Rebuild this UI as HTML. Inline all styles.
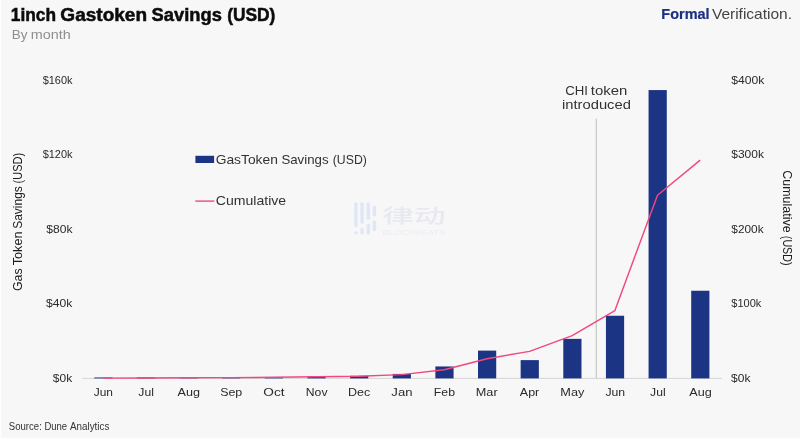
<!DOCTYPE html>
<html><head><meta charset="utf-8"><title>1inch Gastoken Savings (USD)</title>
<style>
html,body{margin:0;padding:0;background:#f7f7f7;}
body{width:800px;height:438px;overflow:hidden;font-family:"Liberation Sans","Noto Sans CJK SC",sans-serif;}
svg{display:block}
text{font-family:"Liberation Sans","Noto Sans CJK SC",sans-serif;}
</style></head><body>
<svg width="800" height="438" viewBox="0 0 800 438">
<rect width="800" height="438" fill="#f7f7f7"/>
<rect id="strip" width="1.2" height="438" fill="#ffffff"/>
<g id="shapes">
<g fill="#dfe7f6">
<rect x="354.2" y="202.4" width="3.4" height="24.6" rx="1.2"/>
<rect x="354.2" y="231.4" width="3.4" height="3" rx="1.2"/>
<rect x="360.4" y="202.4" width="3.4" height="21.2" rx="1.2"/>
<rect x="360.4" y="228" width="3.4" height="6.4" rx="1.2"/>
<rect x="366.6" y="202.4" width="3.4" height="17.2" rx="1.2"/>
<rect x="366.6" y="224" width="3.4" height="10.4" rx="1.2"/>
<rect x="372.7" y="205.8" width="3.4" height="10.4" rx="1.2"/>
<rect x="372.7" y="220.6" width="3.4" height="10.4" rx="1.2"/>
</g>
<text class="wm" x="382.3" y="222.6" font-size="19.5" font-weight="500" style="fill:#e8e9f0" textLength="63.4" lengthAdjust="spacingAndGlyphs">律动</text>
<text class="wm" x="382.5" y="234.5" font-size="6.6" font-weight="400" style="fill:#ececf2" textLength="63" lengthAdjust="spacingAndGlyphs">BLOCKBEATS</text>
<line x1="82.3" y1="378.4" x2="722" y2="378.4" stroke="#d4d4d4" stroke-width="1"/>
<line x1="596.25" y1="118.7" x2="596.25" y2="378.4" stroke="#bdbdbd" stroke-width="1"/>
<g fill="#1b3484">
<rect x="94.25" y="377.47" width="18.2" height="0.93"/>
<rect x="136.89" y="377.47" width="18.2" height="0.93"/>
<rect x="179.53" y="378.03" width="18.2" height="0.37"/>
<rect x="222.17" y="377.56" width="18.2" height="0.84"/>
<rect x="264.81" y="377.19" width="18.2" height="1.21"/>
<rect x="307.45" y="376.53" width="18.2" height="1.86"/>
<rect x="350.09" y="375.79" width="18.2" height="2.61"/>
<rect x="392.73" y="373.92" width="18.2" height="4.48"/>
<rect x="435.37" y="366.46" width="18.2" height="11.94"/>
<rect x="478.01" y="350.61" width="18.2" height="27.79"/>
<rect x="520.65" y="360.12" width="18.2" height="18.28"/>
<rect x="563.29" y="338.86" width="18.2" height="39.54"/>
<rect x="605.93" y="315.74" width="18.2" height="62.66"/>
<rect x="648.57" y="90.07" width="18.2" height="288.33"/>
<rect x="691.21" y="290.75" width="18.2" height="87.65"/>
<rect x="195.4" y="155.8" width="18.7" height="7.2"/>
</g>
<polyline points="103.2,378.1 145.8,377.9 188.5,377.8 231.1,377.6 273.8,377.3 316.4,376.8 359.0,376.2 401.7,374.6 444.3,369.8 487.0,358.7 529.6,351.4 572.2,335.6 614.9,310.5 657.5,195.2 700.2,160.1" fill="none" stroke="#f1487f" stroke-width="1.45" stroke-linejoin="round"/>
<line x1="195.3" y1="201.1" x2="214.3" y2="201.1" stroke="#f1487f" stroke-width="1.4"/>
</g>
<g id="labels">
<text y="20.60" font-size="18" font-weight="700" style="fill:#0c0c0c;stroke:#0c0c0c;stroke-width:0.5"><tspan id="t1" x="10.78" textLength="45.21" lengthAdjust="spacingAndGlyphs">1inch</tspan> <tspan id="t2" x="60.33" textLength="86.74" lengthAdjust="spacingAndGlyphs">Gastoken</tspan> <tspan id="t3" x="151.57" textLength="70.28" lengthAdjust="spacingAndGlyphs">Savings</tspan> <tspan id="t4" x="227.20" textLength="48.21" lengthAdjust="spacingAndGlyphs">(USD)</tspan></text>
<text y="38.50" font-size="13" font-weight="400" style="fill:#8f8f8f"><tspan id="s1" x="11.79" textLength="15.74" lengthAdjust="spacingAndGlyphs">By</tspan> <tspan id="s2" x="30.85" textLength="40.00" lengthAdjust="spacingAndGlyphs">month</tspan></text>
<text y="19.05" font-size="14.8" font-weight="700" style="fill:#1b2f85;stroke:#1b2f85;stroke-width:0.2"><tspan id="f1" x="661.37" textLength="48.23" lengthAdjust="spacingAndGlyphs">Formal</tspan></text>
<text y="19.05" font-size="14.8" font-weight="400" style="fill:#444"><tspan id="f2" x="711.91" textLength="80.06" lengthAdjust="spacingAndGlyphs">Verification.</tspan></text>
<text y="163.90" font-size="13.6" font-weight="400" style="fill:#323232"><tspan id="l1" x="215.69" textLength="62.15" lengthAdjust="spacingAndGlyphs">GasToken</tspan> <tspan id="l2" x="281.38" textLength="47.21" lengthAdjust="spacingAndGlyphs">Savings</tspan> <tspan id="l3" x="332.76" textLength="34.10" lengthAdjust="spacingAndGlyphs">(USD)</tspan></text>
<text y="205.30" font-size="13.6" font-weight="400" style="fill:#323232"><tspan id="l4" x="215.75" textLength="70.40" lengthAdjust="spacingAndGlyphs">Cumulative</tspan></text>
<text y="94.50" font-size="13.5" font-weight="400" style="fill:#323232"><tspan id="c1" x="565.27" textLength="22.71" lengthAdjust="spacingAndGlyphs">CHI</tspan> <tspan id="c2" x="590.82" textLength="36.52" lengthAdjust="spacingAndGlyphs">token</tspan></text>
<text y="109.35" font-size="13.5" font-weight="400" style="fill:#323232"><tspan id="c3" x="562.01" textLength="68.88" lengthAdjust="spacingAndGlyphs">introduced</tspan></text>
<text y="429.50" font-size="10.2" font-weight="400" style="fill:#333"><tspan id="src1" x="8.83" textLength="32.96" lengthAdjust="spacingAndGlyphs">Source:</tspan> <tspan id="src2" x="44.39" textLength="22.74" lengthAdjust="spacingAndGlyphs">Dune</tspan> <tspan id="src3" x="69.93" textLength="39.46" lengthAdjust="spacingAndGlyphs">Analytics</tspan></text>
<text y="396.00" font-size="11.6" font-weight="400" style="fill:#2a2a2a"><tspan id="m0" x="93.73" textLength="19.28" lengthAdjust="spacingAndGlyphs">Jun</tspan> <tspan id="m1" x="138.36" textLength="15.54" lengthAdjust="spacingAndGlyphs">Jul</tspan> <tspan id="m2" x="177.62" textLength="22.45" lengthAdjust="spacingAndGlyphs">Aug</tspan> <tspan id="m3" x="220.16" textLength="22.12" lengthAdjust="spacingAndGlyphs">Sep</tspan> <tspan id="m4" x="263.36" textLength="21.22" lengthAdjust="spacingAndGlyphs">Oct</tspan> <tspan id="m5" x="305.82" textLength="21.70" lengthAdjust="spacingAndGlyphs">Nov</tspan> <tspan id="m6" x="347.90" textLength="22.25" lengthAdjust="spacingAndGlyphs">Dec</tspan> <tspan id="m7" x="391.38" textLength="21.15" lengthAdjust="spacingAndGlyphs">Jan</tspan> <tspan id="m8" x="433.85" textLength="21.12" lengthAdjust="spacingAndGlyphs">Feb</tspan> <tspan id="m9" x="475.78" textLength="21.86" lengthAdjust="spacingAndGlyphs">Mar</tspan> <tspan id="m10" x="519.86" textLength="19.42" lengthAdjust="spacingAndGlyphs">Apr</tspan> <tspan id="m11" x="560.34" textLength="24.01" lengthAdjust="spacingAndGlyphs">May</tspan> <tspan id="m12" x="605.43" textLength="19.77" lengthAdjust="spacingAndGlyphs">Jun</tspan> <tspan id="m13" x="650.10" textLength="15.55" lengthAdjust="spacingAndGlyphs">Jul</tspan> <tspan id="m14" x="689.24" textLength="22.43" lengthAdjust="spacingAndGlyphs">Aug</tspan></text>
<text y="382.00" font-size="11.8" font-weight="400" style="fill:#2a2a2a"><tspan id="yl0" x="52.84" textLength="19.37" lengthAdjust="spacingAndGlyphs">$0k</tspan> <tspan id="yr0" x="731.11" textLength="19.34" lengthAdjust="spacingAndGlyphs">$0k</tspan></text>
<text y="307.40" font-size="11.8" font-weight="400" style="fill:#2a2a2a"><tspan id="yl1" x="46.13" textLength="26.30" lengthAdjust="spacingAndGlyphs">$40k</tspan> <tspan id="yr1" x="731.31" textLength="30.02" lengthAdjust="spacingAndGlyphs">$100k</tspan></text>
<text y="232.80" font-size="11.8" font-weight="400" style="fill:#2a2a2a"><tspan id="yl2" x="46.34" textLength="26.14" lengthAdjust="spacingAndGlyphs">$80k</tspan> <tspan id="yr2" x="731.30" textLength="32.26" lengthAdjust="spacingAndGlyphs">$200k</tspan></text>
<text y="158.20" font-size="11.8" font-weight="400" style="fill:#2a2a2a"><tspan id="yl3" x="42.66" textLength="29.83" lengthAdjust="spacingAndGlyphs">$120k</tspan> <tspan id="yr3" x="731.26" textLength="32.67" lengthAdjust="spacingAndGlyphs">$300k</tspan></text>
<text y="83.60" font-size="11.8" font-weight="400" style="fill:#2a2a2a"><tspan id="yl4" x="42.66" textLength="29.83" lengthAdjust="spacingAndGlyphs">$160k</tspan> <tspan id="yr4" x="731.20" textLength="33.02" lengthAdjust="spacingAndGlyphs">$400k</tspan></text>
<text transform="translate(22.1,0) rotate(-90)" y="0.00" font-size="12.6" font-weight="400" style="fill:#1a1a1a"><tspan id="rl1" x="-291.04" textLength="22.58" lengthAdjust="spacingAndGlyphs">Gas</tspan> <tspan id="rl2" x="-265.25" textLength="33.76" lengthAdjust="spacingAndGlyphs">Token</tspan> <tspan id="rl3" x="-228.87" textLength="42.69" lengthAdjust="spacingAndGlyphs">Savings</tspan> <tspan id="rl4" x="-183.38" textLength="30.60" lengthAdjust="spacingAndGlyphs">(USD)</tspan></text>
<text transform="translate(783.1,0) rotate(90)" y="0.00" font-size="12.6" font-weight="400" style="fill:#1a1a1a"><tspan id="rr1" x="170.28" textLength="62.37" lengthAdjust="spacingAndGlyphs">Cumulative</tspan> <tspan id="rr2" x="235.84" textLength="29.66" lengthAdjust="spacingAndGlyphs">(USD)</tspan></text>
</g>
</svg>
</body></html>
